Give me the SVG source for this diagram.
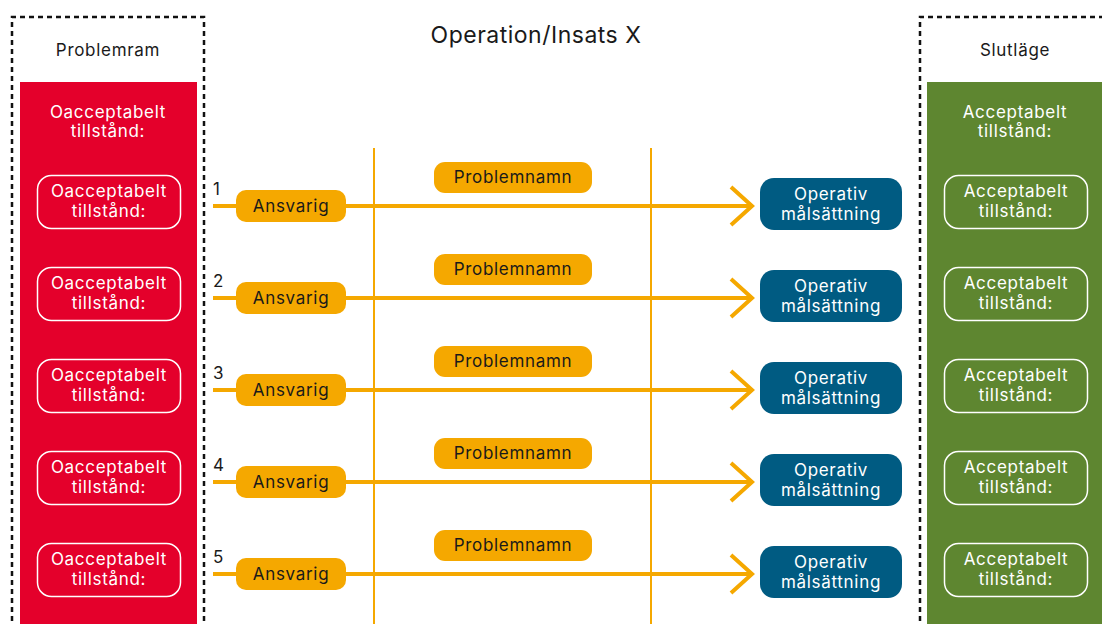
<svg xmlns="http://www.w3.org/2000/svg" width="1102" height="624" viewBox="0 0 1102 624">
<defs>
<style>
text{font-family:Inter,"Noto Sans","Liberation Sans",sans-serif;text-anchor:middle;letter-spacing:0.7px}
.dash{fill:none;stroke:#111;stroke-width:2.5;stroke-dasharray:5 4}
.hdr{font-size:17px;fill:#1a1a1a}
.wt{font-size:17px;fill:#fff}
.inner{fill:none;stroke:#fff;stroke-width:1.5}
.ln{stroke:#f5a800;stroke-width:4;fill:none}
.vl{stroke:#f5a800;stroke-width:2;fill:none}
.pill{fill:#f5a800}
.bt{font-size:17px;fill:#1a1a1a}
.blue{fill:#005b82}
.num{font-size:17px;fill:#1a1a1a;text-anchor:start}
</style>
</defs>
<rect width="1102" height="624" fill="#fff"/>
<text x="536" y="43" style="font-size:23px;letter-spacing:0.5px;fill:#1a1a1a">Operation/Insats X</text>

<g id="problemram">
<path class="dash" d="M12,630 V17 H204 V630"/>
<text class="hdr" x="108" y="56">Problemram</text>
<rect x="20" y="82" width="177" height="550" fill="#e4002b"/>
<text class="wt" x="108" y="118">Oacceptabelt</text>
<text class="wt" x="108" y="137">tillstånd:</text>
</g>
<g id="slutlage">
<path class="dash" d="M920,630 V17 H1110"/>
<text class="hdr" x="1015" y="56">Slutläge</text>
<rect x="927" y="82" width="180" height="550" fill="#5e8630"/>
<text class="wt" x="1015" y="118">Acceptabelt</text>
<text class="wt" x="1015" y="137">tillstånd:</text>
</g>

<g id="connectors">
<line class="vl" x1="374" y1="148" x2="374" y2="624"/>
<line class="vl" x1="651" y1="148" x2="651" y2="624"/>
<g id="arrows">
<line class="ln" x1="213" y1="206" x2="752" y2="206"/>
<polyline class="ln" points="731,187 752,206 731,225"/>
<line class="ln" x1="213" y1="298" x2="752" y2="298"/>
<polyline class="ln" points="731,279 752,298 731,317"/>
<line class="ln" x1="213" y1="390" x2="752" y2="390"/>
<polyline class="ln" points="731,371 752,390 731,409"/>
<line class="ln" x1="213" y1="482" x2="752" y2="482"/>
<polyline class="ln" points="731,463 752,482 731,501"/>
<line class="ln" x1="213" y1="574" x2="752" y2="574"/>
<polyline class="ln" points="731,555 752,574 731,593"/>
</g>
</g>

<g id="row1">
<rect class="inner" x="37.5" y="175.5" width="143" height="53" rx="14"/>
<text class="wt" x="109" y="197">Oacceptabelt</text><text class="wt" x="109" y="217">tillstånd:</text>
<text class="num" x="213" y="195">1</text>
<rect class="pill" x="236" y="190" width="110" height="32" rx="10"/>
<text class="bt" x="291" y="212">Ansvarig</text>
<rect class="pill" x="434" y="162" width="158" height="31" rx="11"/>
<text class="bt" x="513" y="183">Problemnamn</text>
<rect class="blue" x="760" y="178" width="142" height="52" rx="14"/>
<text class="wt" x="831" y="200">Operativ</text><text class="wt" x="831" y="220">målsättning</text>
<rect class="inner" x="944.5" y="175.5" width="143" height="53" rx="14"/>
<text class="wt" x="1016" y="197">Acceptabelt</text><text class="wt" x="1016" y="217">tillstånd:</text>
</g>
<g id="row2">
<rect class="inner" x="37.5" y="267.5" width="143" height="53" rx="14"/>
<text class="wt" x="109" y="289">Oacceptabelt</text><text class="wt" x="109" y="309">tillstånd:</text>
<text class="num" x="213" y="287">2</text>
<rect class="pill" x="236" y="282" width="110" height="32" rx="10"/>
<text class="bt" x="291" y="304">Ansvarig</text>
<rect class="pill" x="434" y="254" width="158" height="31" rx="11"/>
<text class="bt" x="513" y="275">Problemnamn</text>
<rect class="blue" x="760" y="270" width="142" height="52" rx="14"/>
<text class="wt" x="831" y="292">Operativ</text><text class="wt" x="831" y="312">målsättning</text>
<rect class="inner" x="944.5" y="267.5" width="143" height="53" rx="14"/>
<text class="wt" x="1016" y="289">Acceptabelt</text><text class="wt" x="1016" y="309">tillstånd:</text>
</g>
<g id="row3">
<rect class="inner" x="37.5" y="359.5" width="143" height="53" rx="14"/>
<text class="wt" x="109" y="381">Oacceptabelt</text><text class="wt" x="109" y="401">tillstånd:</text>
<text class="num" x="213" y="379">3</text>
<rect class="pill" x="236" y="374" width="110" height="32" rx="10"/>
<text class="bt" x="291" y="396">Ansvarig</text>
<rect class="pill" x="434" y="346" width="158" height="31" rx="11"/>
<text class="bt" x="513" y="367">Problemnamn</text>
<rect class="blue" x="760" y="362" width="142" height="52" rx="14"/>
<text class="wt" x="831" y="384">Operativ</text><text class="wt" x="831" y="404">målsättning</text>
<rect class="inner" x="944.5" y="359.5" width="143" height="53" rx="14"/>
<text class="wt" x="1016" y="381">Acceptabelt</text><text class="wt" x="1016" y="401">tillstånd:</text>
</g>
<g id="row4">
<rect class="inner" x="37.5" y="451.5" width="143" height="53" rx="14"/>
<text class="wt" x="109" y="473">Oacceptabelt</text><text class="wt" x="109" y="493">tillstånd:</text>
<text class="num" x="213" y="471">4</text>
<rect class="pill" x="236" y="466" width="110" height="32" rx="10"/>
<text class="bt" x="291" y="488">Ansvarig</text>
<rect class="pill" x="434" y="438" width="158" height="31" rx="11"/>
<text class="bt" x="513" y="459">Problemnamn</text>
<rect class="blue" x="760" y="454" width="142" height="52" rx="14"/>
<text class="wt" x="831" y="476">Operativ</text><text class="wt" x="831" y="496">målsättning</text>
<rect class="inner" x="944.5" y="451.5" width="143" height="53" rx="14"/>
<text class="wt" x="1016" y="473">Acceptabelt</text><text class="wt" x="1016" y="493">tillstånd:</text>
</g>
<g id="row5">
<rect class="inner" x="37.5" y="543.5" width="143" height="53" rx="14"/>
<text class="wt" x="109" y="565">Oacceptabelt</text><text class="wt" x="109" y="585">tillstånd:</text>
<text class="num" x="213" y="563">5</text>
<rect class="pill" x="236" y="558" width="110" height="32" rx="10"/>
<text class="bt" x="291" y="580">Ansvarig</text>
<rect class="pill" x="434" y="530" width="158" height="31" rx="11"/>
<text class="bt" x="513" y="551">Problemnamn</text>
<rect class="blue" x="760" y="546" width="142" height="52" rx="14"/>
<text class="wt" x="831" y="568">Operativ</text><text class="wt" x="831" y="588">målsättning</text>
<rect class="inner" x="944.5" y="543.5" width="143" height="53" rx="14"/>
<text class="wt" x="1016" y="565">Acceptabelt</text><text class="wt" x="1016" y="585">tillstånd:</text>
</g>
</svg>
